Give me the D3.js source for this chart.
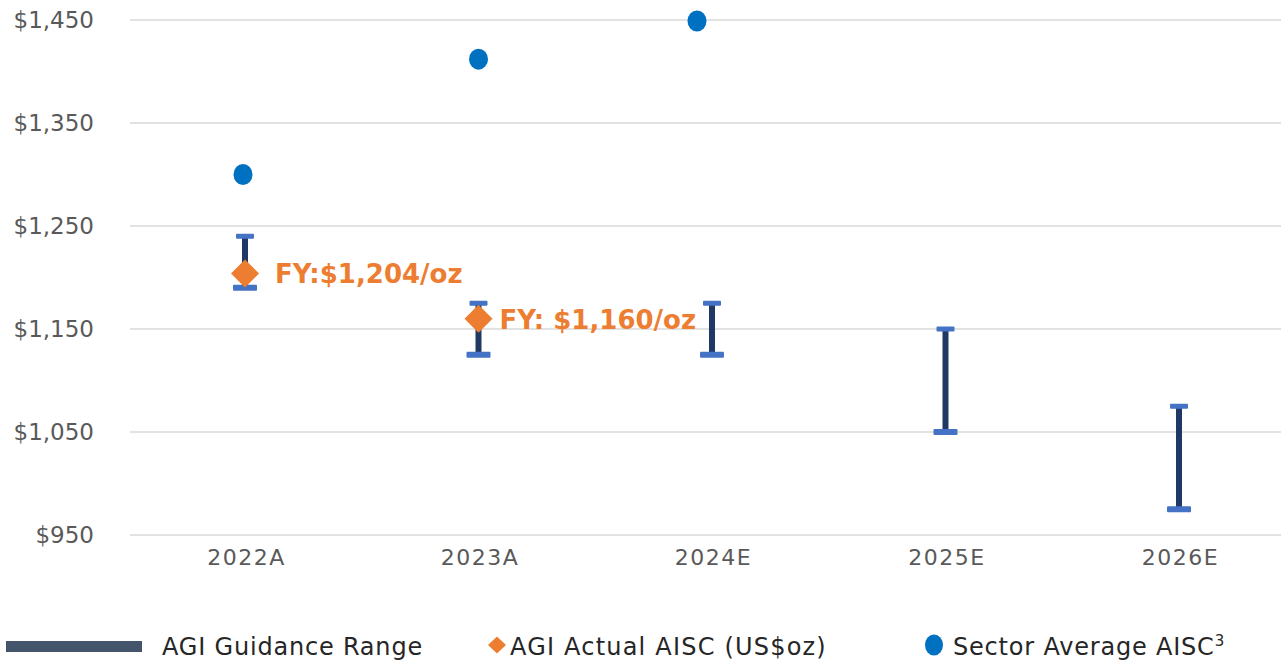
<!DOCTYPE html>
<html>
<head>
<meta charset="utf-8">
<script src="https://cdn.jsdelivr.net/npm/d3@7"></script>
<style>
  body { margin: 0; background: #fff; }
  svg { display: block; font-family: "DejaVu Sans", sans-serif; }
</style>
</head>
<body>
<div id="chart"></div>
<script>
// data
var years = ["2022A", "2023A", "2024E", "2025E", "2026E"];
var guidanceLow = [1190, 1125, 1125, 1050, 975];
var guidanceHigh = [1240, 1175, 1175, 1150, 1075];
var sectorYears = ["2022A", "2023A", "2024E"];
var sectorAvg = [1300, 1412, 1449];
var actualYears = ["2022A", "2023A"];
var actualAisc = [1204, 1160];
var actualLabels = ["FY:$1,204/oz", "FY: $1,160/oz"];
var yTicks = [950, 1050, 1150, 1250, 1350, 1450];

var W = 1281, H = 660;

var svg = d3.select("#chart").append("svg")
    .attr("width", W)
    .attr("height", H);

var x = d3.scalePoint()
    .domain(years)
    .range([245, 1179]);

var y = d3.scaleLinear()
    .domain([950, 1450])
    .range([535, 20]);

// gridlines
svg.append("g")
    .selectAll("line")
    .data(yTicks)
    .join("line")
    .attr("x1", 130)
    .attr("x2", W)
    .attr("y1", d => y(d))
    .attr("y2", d => y(d))
    .attr("stroke", "#d9d9d9")
    .attr("stroke-width", 1.5);

// y axis labels
var yAxis = svg.append("g")
    .attr("transform", "translate(94,0)")
    .call(d3.axisLeft(y).tickValues(yTicks).tickSize(0).tickPadding(0)
        .tickFormat(d => "$" + d3.format(",")(d)));
yAxis.select(".domain").remove();
yAxis.selectAll("text")
    .attr("fill", "#595959")
    .style("font-size", "23px")
    .style("font-family", "DejaVu Sans, sans-serif");

// x axis labels
var xAxis = svg.append("g")
    .attr("transform", "translate(1,549)")
    .call(d3.axisBottom(x).tickSize(0).tickPadding(0));
xAxis.select(".domain").remove();
xAxis.selectAll("text")
    .attr("fill", "#595959")
    .attr("dy", "0.71em")
    .style("font-size", "22px")
    .style("letter-spacing", "1.5px")
    .style("font-family", "DejaVu Sans, sans-serif");

// guidance range bars
var bars = svg.append("g");
years.forEach(function(yr, i) {
    var cx = x(yr);
    bars.append("line")
        .attr("x1", cx).attr("x2", cx)
        .attr("y1", y(guidanceHigh[i])).attr("y2", y(guidanceLow[i]))
        .attr("stroke", "#1f3864")
        .attr("stroke-width", 6);
    // top cap
    bars.append("rect")
        .attr("x", cx - 9).attr("y", y(guidanceHigh[i]) - 2.5)
        .attr("width", 18).attr("height", 5)
        .attr("rx", 1)
        .attr("fill", "#4472c4");
    // bottom cap
    bars.append("rect")
        .attr("x", cx - 12).attr("y", y(guidanceLow[i]) - 3)
        .attr("width", 24).attr("height", 6)
        .attr("rx", 1)
        .attr("fill", "#4472c4");
});

// sector average dots (the source nudges them a little left of the category)
var dotNudge = [-2, 0, -15];
svg.append("g")
    .selectAll("ellipse")
    .data(sectorAvg)
    .join("ellipse")
    .attr("cx", (d, i) => x(sectorYears[i]) + dotNudge[i])
    .attr("cy", d => y(d))
    .attr("rx", 9.5)
    .attr("ry", 10.5)
    .attr("fill", "#0070c0");

// actual AISC diamonds
function diamondPath(w, h) {
    return "M0," + (-h / 2) + "L" + (w / 2) + ",0L0," + (h / 2) + "L" + (-w / 2) + ",0Z";
}
svg.append("g")
    .selectAll("path")
    .data(actualAisc)
    .join("path")
    .attr("d", diamondPath(28, 28))
    .attr("transform", (d, i) => "translate(" + x(actualYears[i]) + "," + y(d) + ")")
    .attr("fill", "#ed7d31");

svg.append("g")
    .selectAll("text")
    .data(actualAisc)
    .join("text")
    .attr("x", (d, i) => x(actualYears[i]) + 30 - i * 9)
    .attr("y", d => y(d) + 10)
    .attr("fill", "#ed7d31")
    .style("font-size", "26px")
    .style("font-weight", "bold")
    .text((d, i) => actualLabels[i]);

// legend
var lg = svg.append("g")
    .style("font-size", "24px")
    .style("letter-spacing", "0.8px")
    .attr("fill", "#262626");
lg.append("rect")
    .attr("x", 6).attr("y", 641).attr("width", 136).attr("height", 11)
    .attr("fill", "#44546a");
lg.append("text").attr("x", 162).attr("y", 655).text("AGI Guidance Range");

lg.append("path")
    .attr("d", diamondPath(18, 17))
    .attr("transform", "translate(497,645)")
    .attr("fill", "#ed7d31");
lg.append("text").attr("x", 510).attr("y", 655).style("letter-spacing", "1.2px").text("AGI Actual AISC (US$oz)");

lg.append("ellipse")
    .attr("cx", 934).attr("cy", 645).attr("rx", 9).attr("ry", 10.5)
    .attr("fill", "#0070c0");
var t3 = lg.append("text").attr("x", 953).attr("y", 655).text("Sector Average AISC");
t3.append("tspan").attr("dy", -9).style("font-size", "15px").text("3");
</script>
</body>
</html>
